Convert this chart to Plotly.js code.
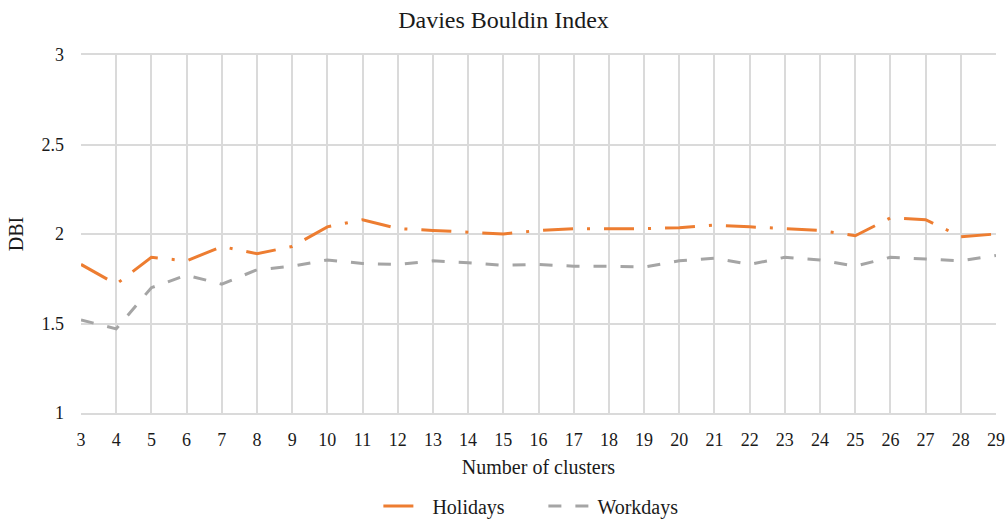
<!DOCTYPE html>
<html>
<head>
<meta charset="utf-8">
<script src="https://cdn.plot.ly/plotly-3.0.1.min.js"></script>
<style>html,body{margin:0;padding:0;background:#fff;}#chart{width:1007px;height:520px;}</style>
</head>
<body>
<div id="chart"></div>
<script>
const clusters = [3,4,5,6,7,8,9,10,11,12,13,14,15,16,17,18,19,20,21,22,23,24,25,26,27,28,29];
const holidays = [1.83,1.72,1.87,1.85,1.93,1.89,1.93,2.04,2.08,2.03,2.02,2.01,2.00,2.02,2.03,2.03,2.03,2.035,2.05,2.04,2.03,2.02,1.99,2.09,2.08,1.985,2.00];
const workdays = [1.52,1.47,1.70,1.77,1.72,1.80,1.82,1.855,1.835,1.83,1.85,1.84,1.825,1.83,1.82,1.82,1.815,1.85,1.865,1.83,1.87,1.855,1.82,1.87,1.86,1.85,1.88];

const fontFam = 'Times New Roman, Liberation Serif, serif';
const traces = [
  {x: clusters, y: holidays, name: 'Holidays', type: 'scatter', mode: 'lines',
   line: {color: '#ED7D31', width: 3, dash: '30px,14px,3px,14px'}},
  {x: clusters, y: workdays, name: 'Workdays', type: 'scatter', mode: 'lines',
   line: {color: '#A5A5A5', width: 3, dash: '13px,14px'}}
];
const layout = {
  width: 1007, height: 520,
  margin: {l: 81, r: 11, t: 55, b: 107},
  paper_bgcolor: '#fff', plot_bgcolor: '#fff',
  font: {family: fontFam, size: 18, color: '#1a1a1a'},
  title: {text: 'Davies Bouldin Index', font: {family: fontFam, size: 24, color: '#1a1a1a'}, x: 0.5, xanchor: 'center', y: 0.962, yanchor: 'middle'},
  xaxis: {range: [3, 29], tickmode: 'array', tickvals: clusters, ticktext: clusters.map(String),
    automargin: false,
    showgrid: true, gridcolor: '#DADADA', gridwidth: 2, zeroline: false,
    showline: true, linecolor: '#DADADA', linewidth: 2, mirror: true, ticks: '',
    ticklabelstandoff: 9,
    tickfont: {family: fontFam, size: 18, color: '#1a1a1a'},
    title: {text: 'Number of clusters', font: {family: fontFam, size: 20, color: '#1a1a1a'}, standoff: 11}},
  yaxis: {range: [1, 3], tickmode: 'array', tickvals: [1,1.5,2,2.5,3], ticktext: ['1','1.5','2','2.5','3'],
    automargin: false,
    showgrid: true, gridcolor: '#DADADA', gridwidth: 2, zeroline: false,
    showline: false, ticks: '',
    ticklabelstandoff: 16,
    tickfont: {family: fontFam, size: 18, color: '#1a1a1a'},
    title: {text: 'DBI', font: {family: fontFam, size: 20, color: '#1a1a1a'}, standoff: 12}},
  showlegend: true,
  legend: {orientation: 'h', x: 0.325, xanchor: 'left', yref: 'container', y: 0.027, yanchor: 'middle',
    font: {family: fontFam, size: 20, color: '#1a1a1a'}, itemwidth: 44, entrywidth: 106, traceorder: 'normal'}
};
Plotly.newPlot('chart', traces, layout, {displayModeBar: false, staticPlot: true});
</script>
</body>
</html>
